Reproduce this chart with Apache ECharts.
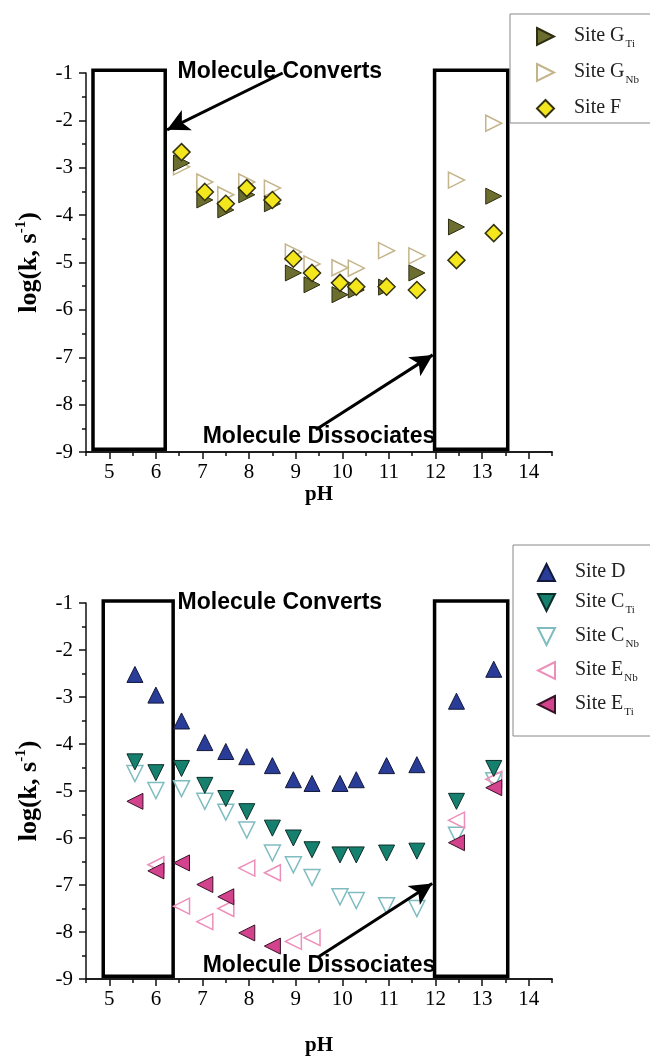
<!DOCTYPE html>
<html>
<head>
<meta charset="utf-8">
<script src="https://cdn.jsdelivr.net/npm/echarts@6/dist/echarts.min.js"></script>
<style>
  html, body { margin: 0; padding: 0; background: #fff; }
  #chart { width: 650px; height: 1057px; }
</style>
</head>
<body>
<div id="chart"></div>
<script>
// top panel
var phTop = [6.55, 7.05, 7.5, 7.95, 8.5, 8.95, 9.35, 9.95, 10.3, 10.95, 11.6, 12.45, 13.25];
var siteGTi = [-2.9, -3.68, -3.89, -3.57, -3.76, -5.22, -5.47, -5.68, -5.58, -5.52, -5.22, -4.25, -3.6];
var siteGNb = [-2.98, -3.3, -3.57, -3.3, -3.43, -4.78, -5.03, -5.11, -5.12, -4.75, -4.86, -3.26, -2.06];
var siteF = [-2.67, -3.51, -3.76, -3.43, -3.68, -4.92, -5.22, -5.43, -5.51, -5.51, -5.58, -4.95, -4.38];

// bottom panel
var phBottom = [5.55, 6.0, 6.55, 7.05, 7.5, 7.95, 8.5, 8.95, 9.35, 9.95, 10.3, 10.95, 11.6, 12.45, 13.25];
var siteD = [-2.52, -2.96, -3.51, -3.97, -4.16, -4.27, -4.46, -4.76, -4.84, -4.84, -4.76, -4.46, -4.44, -3.09, -2.41];
var siteCTi = [-4.38, -4.61, -4.52, -4.88, -5.16, -5.44, -5.79, -6.0, -6.25, -6.36, -6.36, -6.32, -6.28, -5.22, -4.52];
var siteCNb = [-4.63, -4.99, -4.95, -5.22, -5.45, -5.83, -6.32, -6.57, -6.84, -7.25, -7.33, -7.44, -7.5, -5.94, -4.78];
var siteENb = [null, -6.57, -7.45, -7.78, -7.5, -6.64, -6.74, -8.2, -8.12, null, null, null, null, -5.62, -4.75];
var siteETi = [-5.22, -6.7, -6.53, -6.99, -7.25, -8.02, -8.3, null, null, null, null, null, null, -6.1, -4.93];

// axes
var xTicks = [5, 6, 7, 8, 9, 10, 11, 12, 13, 14];

// pH windows [x0, x1, y0, y1]
var topBoxes = [[4.65, 6.2, -8.94, -0.94], [11.98, 13.55, -8.94, -0.94]];
var bottomBoxes = [[4.87, 6.37, -8.94, -0.96], [11.98, 13.55, -8.94, -0.96]];

// arrows [from, to]
var topArrows = [[[8.72, -1.0], [6.24, -2.2]], [[9.43, -8.53], [11.94, -6.95]]];
var bottomArrows = [[[8.75, -0.98], [6.41, -2.16]], [[9.5, -8.52], [11.93, -6.97]]];

var noteText = ['Molecule Converts', 'Molecule Dissociates'];
var topNotes = [[8.66, -0.98], [9.5, -8.68]];
var bottomNotes = [[8.66, -1.0], [9.5, -8.72]];

var SERIF = '"Liberation Serif", "Times New Roman", serif';
var SANS = '"Liberation Sans", Arial, sans-serif';

// marker shapes
var TRI_UP = 'triangle';
var TRI_RIGHT = 'path://M0,0L20,10L0,20Z';
var TRI_DOWN = 'path://M0,0L20,0L10,20Z';
var TRI_LEFT = 'path://M20,0L0,10L20,20Z';

function pairs(xs, ys) {
  var out = [];
  for (var i = 0; i < xs.length; i++) {
    if (ys[i] !== null) out.push([xs[i], ys[i]]);
  }
  return out;
}

function fmtName(name) {
  var p = name.split('_');
  if (p.length > 1) return '{m|' + p[0] + '}{s|' + p[1] + '}';
  return '{m|' + name + '}';
}

var rich = {
  m: { fontFamily: SERIF, fontSize: 20, color: '#222', lineHeight: 21, verticalAlign: 'top', padding: [0, 0, 0, 15] },
  s: { fontFamily: SERIF, fontSize: 11, color: '#222', lineHeight: 12, verticalAlign: 'top', padding: [13, 0, 0, 1] }
};

function makeX(grid, gap) {
  return [{
    // minor ticks every 0.5
    gridIndex: grid, type: 'value', min: 4.5, max: 14.5, interval: 0.5, position: 'bottom',
    axisLine: { show: true, lineStyle: { color: '#111', width: 1.5 } },
    axisTick: { show: true, length: 4, lineStyle: { color: '#111', width: 1.5 } },
    axisLabel: { show: false },
    splitLine: { show: false }
  }, {
    gridIndex: grid, type: 'value', min: 4.5, max: 14.5, position: 'bottom',
    axisLine: { lineStyle: { color: '#111', width: 1.5 } },
    axisTick: { customValues: xTicks, length: 7, lineStyle: { color: '#111', width: 1.5 } },
    axisLabel: { customValues: xTicks, color: '#000', fontFamily: SERIF, fontSize: 21, margin: 10 },
    splitLine: { show: false },
    name: 'pH', nameLocation: 'middle', nameGap: gap,
    nameTextStyle: { fontFamily: SERIF, fontWeight: 'bold', fontSize: 21, color: '#000' }
  }];
}

function makeY(grid) {
  return {
    gridIndex: grid, type: 'value', min: -9, max: -1, interval: 1,
    axisLine: { show: true, lineStyle: { color: '#111', width: 1.5 } },
    axisTick: { length: 7, lineStyle: { color: '#111', width: 1.5 } },
    minorTick: { show: true, splitNumber: 2, length: 4, lineStyle: { color: '#111', width: 1.5 } },
    axisLabel: { color: '#000', fontFamily: SERIF, fontSize: 21, margin: 13 },
    splitLine: { show: false },
    name: '{a|log(k, s}{b|-1}{a|)}', nameLocation: 'middle', nameGap: 44,
    nameTextStyle: {
      rich: {
        a: { fontFamily: SERIF, fontWeight: 'bold', fontSize: 26, color: '#000', lineHeight: 28, verticalAlign: 'bottom' },
        b: { fontFamily: SERIF, fontWeight: 'bold', fontSize: 15, color: '#000', lineHeight: 28, verticalAlign: 'top', padding: [0, 0, 12, 0] }
      }
    }
  };
}

function boxSeries(xi, yi, boxes) {
  return {
    type: 'custom', xAxisIndex: xi, yAxisIndex: yi, z: 1, silent: true, clip: false,
    data: boxes,
    renderItem: function (params, api) {
      var a = api.coord([api.value(0), api.value(3)]);
      var b = api.coord([api.value(1), api.value(2)]);
      return {
        type: 'rect',
        shape: { x: a[0], y: a[1], width: b[0] - a[0], height: b[1] - a[1] },
        style: { fill: '#fff', stroke: '#000', lineWidth: 3.5 }
      };
    }
  };
}

function arrowSeries(xi, yi, arrows) {
  return {
    type: 'scatter', xAxisIndex: xi, yAxisIndex: yi, data: [], silent: true, z: 8,
    markLine: {
      silent: true, animation: false,
      symbol: ['none', 'arrow'], symbolSize: [17, 22],
      label: { show: false },
      lineStyle: { color: '#000', width: 3, type: 'solid' },
      data: arrows.map(function (ar) {
        return [{ coord: ar[0] }, { coord: ar[1] }];
      })
    }
  };
}

function noteSeries(xi, yi, notes) {
  return {
    type: 'custom', xAxisIndex: xi, yAxisIndex: yi, z: 9, silent: true, clip: false,
    data: notes,
    renderItem: function (params, api) {
      var p = api.coord([api.value(0), api.value(1)]);
      return {
        type: 'text', x: p[0], y: p[1],
        style: {
          text: noteText[params.dataIndex], fill: '#000',
          font: 'bold 23px ' + SANS, align: 'center', verticalAlign: 'middle'
        }
      };
    }
  };
}

function pts(name, xi, yi, xs, ys, symbol, size, fill, stroke, bw, z) {
  return {
    name: name, type: 'scatter', xAxisIndex: xi, yAxisIndex: yi, z: z,
    symbol: symbol, symbolSize: size,
    itemStyle: { color: fill, borderColor: stroke, borderWidth: bw, opacity: 1 },
    data: pairs(xs, ys)
  };
}

var legendBase = {
  orient: 'vertical', itemWidth: 17, itemHeight: 17,
  borderColor: '#888', borderWidth: 1, backgroundColor: '#fff', borderRadius: 0,
  formatter: fmtName, selectedMode: false,
  textStyle: { fontFamily: SERIF, fontSize: 20, color: '#222', rich: rich }
};

var option = {
  animation: false,
  backgroundColor: '#fff',
  grid: [
    { left: 86, top: 73, width: 466, height: 379 },
    { left: 86, top: 603, width: 466, height: 379 }
  ],
  xAxis: makeX(0, 31).concat(makeX(1, 56)),
  yAxis: [makeY(0), makeY(1)],
  legend: [
    Object.assign({}, legendBase, {
      left: 510, top: 14, padding: [12, 40, 5, 26], itemGap: 12,
      data: ['Site G_Ti', 'Site G_Nb', 'Site F']
    }),
    Object.assign({}, legendBase, {
      left: 513, top: 545, padding: [17, 40, 18, 24], itemGap: 10,
      data: ['Site D', 'Site C_Ti', 'Site C_Nb', 'Site E_Nb', 'Site E_Ti']
    })
  ],
  series: [
    boxSeries(0, 0, topBoxes),
    pts('Site G_Nb', 0, 0, phTop, siteGNb, TRI_RIGHT, 16, 'rgba(255,255,255,0)', '#c4b48a', 1.5, 3),
    pts('Site G_Ti', 0, 0, phTop, siteGTi, TRI_RIGHT, 16, '#6c6e2f', '#2e2e12', 1, 4),
    pts('Site F', 0, 0, phTop, siteF, 'diamond', 17, '#f4e61c', '#34320e', 1.5, 5),
    arrowSeries(0, 0, topArrows),
    noteSeries(0, 0, topNotes),

    boxSeries(2, 1, bottomBoxes),
    pts('Site C_Nb', 2, 1, phBottom, siteCNb, TRI_DOWN, 16, 'rgba(255,255,255,0)', '#7fbcc0', 1.5, 3),
    pts('Site E_Nb', 2, 1, phBottom, siteENb, TRI_LEFT, 16, 'rgba(255,255,255,0)', '#ec8fba', 1.5, 3),
    pts('Site D', 2, 1, phBottom, siteD, TRI_UP, 16, '#283c98', '#14183a', 1, 4),
    pts('Site C_Ti', 2, 1, phBottom, siteCTi, TRI_DOWN, 16, '#16806f', '#0c2e28', 1, 4),
    pts('Site E_Ti', 2, 1, phBottom, siteETi, TRI_LEFT, 16, '#d2428d', '#3a1228', 1, 5),
    arrowSeries(2, 1, bottomArrows),
    noteSeries(2, 1, bottomNotes)
  ]
};

var chart = echarts.init(document.getElementById('chart'), null, { renderer: 'canvas' });
chart.setOption(option);
</script>
</body>
</html>
